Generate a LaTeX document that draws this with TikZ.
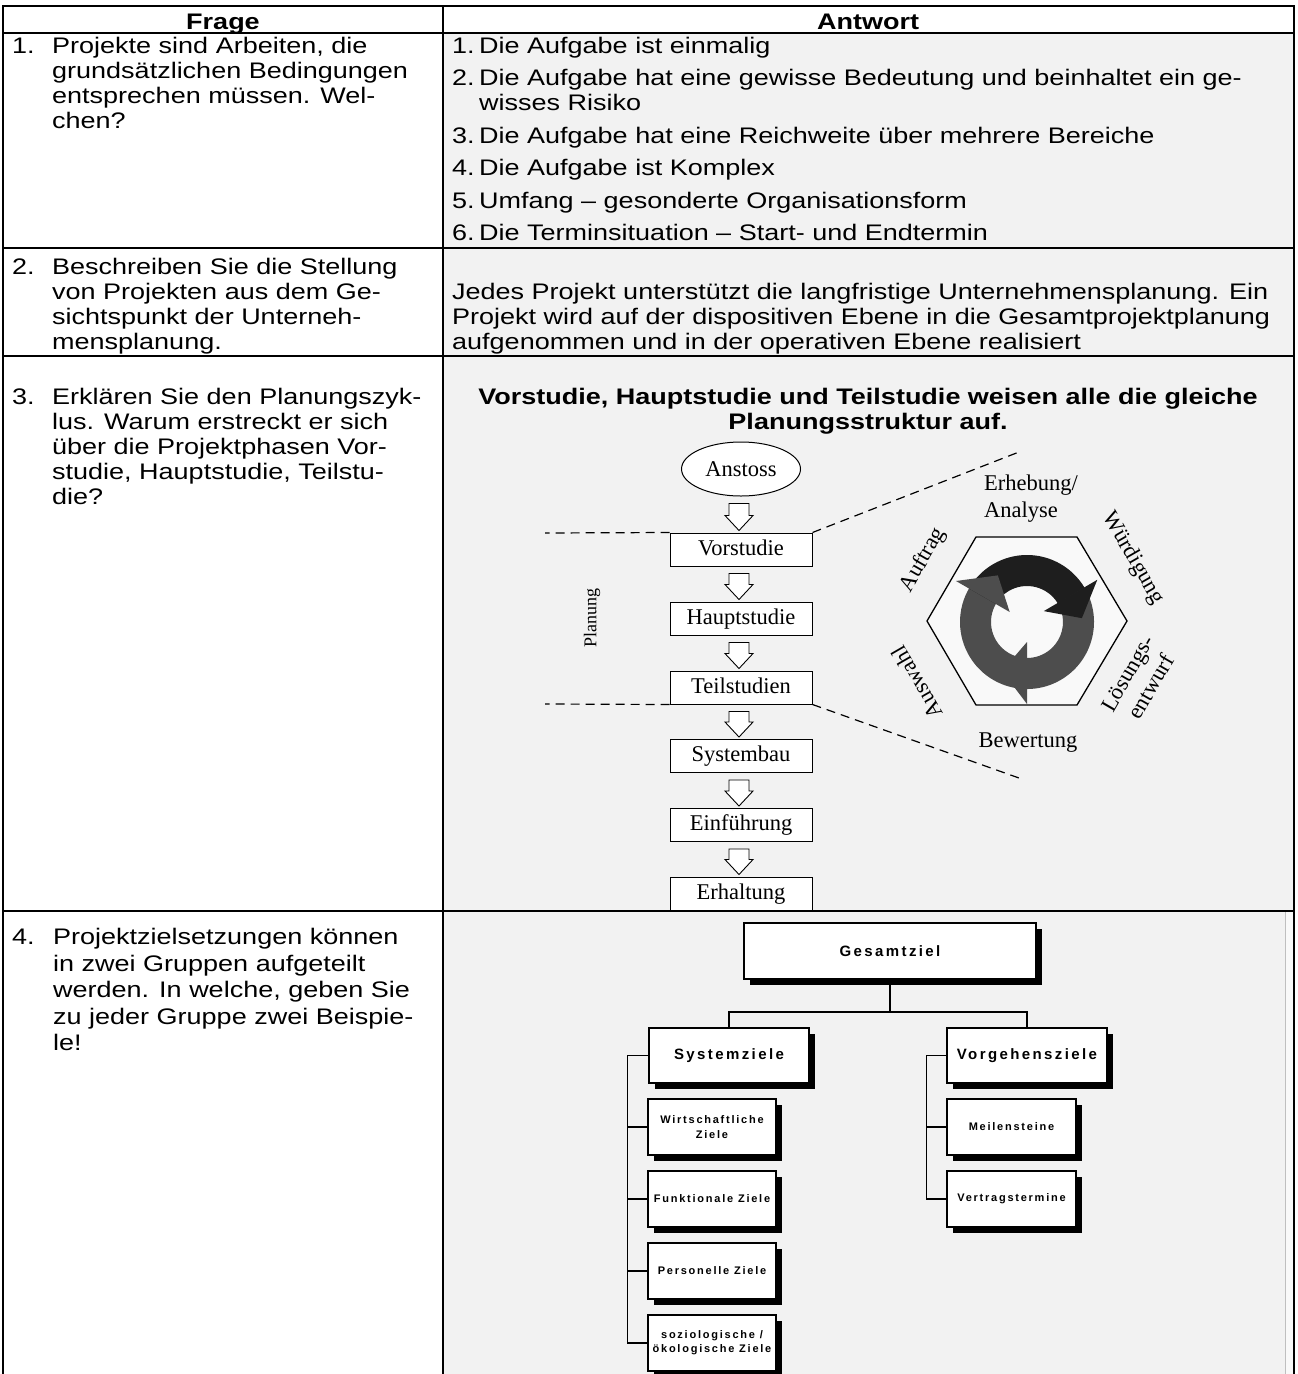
\documentclass[tikz,border=0pt]{standalone}
\usepackage{fontspec}
\setmainfont{Liberation Sans}[FakeStretch=1.2]
\newfontfamily\tms{Liberation Serif}
\newfontfamily\orgf{Liberation Sans}[LetterSpace=16]
\usetikzlibrary{shapes.geometric,calc,shadows}
\definecolor{cellgray}{HTML}{F2F2F2}
\definecolor{hexfill}{HTML}{F9F9F9}
\definecolor{ringdark}{HTML}{1E1E1E}
\definecolor{ringgray}{HTML}{4D4D4D}
\newcommand\bodyfont{\fontsize{22.5}{25}\selectfont}
\newcommand\bodyfontb{\fontsize{22.5}{26.5}\selectfont}
\newcommand\tmsfont{\tms\fontsize{22.5}{27}\selectfont}
\newcommand\orgA{\orgf\bfseries\fontsize{15}{18}\selectfont}
\newcommand\orgB{\orgf\bfseries\fontsize{11}{14.3}\selectfont}
\newcommand\blockarrow[2]{%
  \draw[fill=white, line width=0.9] let \p1=(#1.south), \p2=(#2.north) in
    (\x1-12pt,\y1-7pt) -- (\x1+8pt,\y1-7pt) -- (\x1+8pt,\y2+17pt) -- (\x1+12pt,\y2+17pt)
    -- (\x1-2pt,\y2+2pt) -- (\x1-16pt,\y2+17pt) -- (\x1-12pt,\y2+17pt) -- cycle;}
\begin{document}
\begin{tikzpicture}[x=1pt,y=-1pt,
  txt/.style={font=\bodyfont, inner sep=0, anchor=base west},
  fbox/.style={draw, fill=white, line width=1, minimum width=142, minimum height=33, inner sep=0, font=\tmsfont, text height=15, text depth=4},
  dashline/.style={dash pattern=on 9pt off 6pt, line width=1.2},
  orgbox/.style={draw, fill=white, line width=1.1, inner sep=0, align=center, drop shadow={shadow xshift=6pt, shadow yshift=-6pt, opacity=1, fill=black}},
  orgline/.style={line width=1.2},
  tlabel/.style={font=\tmsfont, inner sep=0}]
\useasboundingbox (0,0) rectangle (1298,1374);
\fill[white] (0,0) rectangle (1298,1374);
% cell shading
\fill[cellgray] (443,33) rectangle (1294,911);
\fill[cellgray] (443,911) rectangle (1285,1374);
\fill[hexfill] (1285,911) rectangle (1294,1374);
\draw[line width=0.6, black!25] (1285,911) -- (1285,1374);
% grid
\draw[line width=1.8] (3,33) -- (1294,33);
\draw[line width=1.8] (3,248) -- (1294,248);
\draw[line width=1.8] (3,356) -- (1294,356);
\draw[line width=2.6] (3,911) -- (1294,911);
\draw[line width=1.5] (443,6) -- (443,1374);
\draw[line width=2.6] (3,1374) -- (3,6) -- (1294,6) -- (1294,1374);

% header
\node[txt, anchor=base, font=\bodyfont\bfseries] (hq) at (223,29.5) {Frage};
\node[txt, anchor=base, font=\bodyfont\bfseries] (ha) at (868,29.5) {Antwort};

% row 1
\node[txt] (q1) at (12,53) {\begin{tabular}[t]{@{}p{40pt}@{}l@{}}1.&Projekte sind Arbeiten, die\\&grundsätzlichen Bedingungen\\&entsprechen müssen. Wel-\\&chen?\end{tabular}};
\node[txt] (a1) at (452,53) {\begin{tabular}[t]{@{}p{27pt}@{}l@{}}1.&Die Aufgabe ist einmalig\\[7.5pt]
2.&Die Aufgabe hat eine gewisse Bedeutung und beinhaltet ein ge-\\
&wisses Risiko\\[7.5pt]
3.&Die Aufgabe hat eine Reichweite über mehrere Bereiche\\[7.5pt]
4.&Die Aufgabe ist Komplex\\[7.5pt]
5.&Umfang – gesonderte Organisationsform\\[7.5pt]
6.&Die Terminsituation – Start- und Endtermin\end{tabular}};

% row 2
\node[txt] (q2) at (12,274.5) {\begin{tabular}[t]{@{}p{40pt}@{}l@{}}2.&Beschreiben Sie die Stellung\\&von Projekten aus dem Ge-\\&sichtspunkt der Unterneh-\\&mensplanung.\end{tabular}};
\node[txt] (a2) at (452,299.5) {\begin{tabular}[t]{@{}l@{}}Jedes Projekt unterstützt die langfristige Unternehmensplanung. Ein\\Projekt wird auf der dispositiven Ebene in die Gesamtprojektplanung\\aufgenommen und in der operativen Ebene realisiert\end{tabular}};

% row 3
\node[txt] (q3) at (12,404.5) {\begin{tabular}[t]{@{}p{40pt}@{}l@{}}3.&Erklären Sie den Planungszyk-\\&lus. Warum erstreckt er sich\\&über die Projektphasen Vor-\\&studie, Hauptstudie, Teilstu-\\&die?\end{tabular}};
\node[inner sep=0, anchor=base, font=\bodyfont\bfseries] (a3t) at (868,404.5) {\begin{tabular}[t]{@{}c@{}}Vorstudie, Hauptstudie und Teilstudie weisen alle die gleiche\\Planungsstruktur auf.\end{tabular}};

% flowchart
\node[ellipse, draw, fill=white, line width=1, minimum width=119, minimum height=54, inner sep=0, font=\tmsfont] (an) at (741,469) {Anstoss};
\node[fbox] (vs) at (741,549.5) {Vorstudie};
\node[fbox] (hs) at (741,618.5) {Hauptstudie};
\node[fbox] (ts) at (741,687.5) {Teilstudien};
\node[fbox] (sb) at (741,756) {Systembau};
\node[fbox] (ef) at (741,825) {Einführung};
\node[fbox] (eh) at (741,893.5) {Erhaltung};
\blockarrow{an}{vs}
\blockarrow{vs}{hs}
\blockarrow{hs}{ts}
\blockarrow{ts}{sb}
\blockarrow{sb}{ef}
\blockarrow{ef}{eh}
\coordinate (dl1) at (545,533);
\coordinate (dl2) at (545,704);
\coordinate (dr1) at (1019,452);
\coordinate (dr2) at (1019,778);
\draw[dashline] (vs.north west) -- (dl1);
\draw[dashline] (ts.south west) -- (dl2);
\draw[dashline] (vs.north east) -- (dr1);
\draw[dashline] (ts.south east) -- (dr2);
\node[rotate=90, inner sep=0, font=\tms\fontsize{18}{20}\selectfont] (pl) at (592,618) {Planung};

% hexagon and cycle
\draw[fill=hexfill, line width=1.3] (927,621) -- (976,537) -- (1077,537) -- (1127,621) -- (1077,705) -- (976,705) -- cycle;
\coordinate (rc) at (1027,622);
\fill[ringgray] ($(rc)+(-32:67)$) arc[start angle=-32, end angle=211, radius=67] -- ($(rc)+(211:36)$) arc[start angle=211, end angle=-32, radius=36] -- cycle;
\fill[ringdark] ($(rc)+(-150:67)$) arc[start angle=-150, end angle=-31, radius=67] -- ($(rc)+(-31:36)$) arc[start angle=-31, end angle=-150, radius=36] -- cycle;
\fill[ringdark] ($(rc)+(-33:20)$) -- ($(rc)+(-31:82)$) -- ($(rc)+(-4:55)$) -- cycle;
\fill[ringgray] ($(rc)+(90:20)$) -- ($(rc)+(90:82)$) -- ($(rc)+(117:55)$) -- cycle;
\fill[ringgray] ($(rc)+(210:20)$) -- ($(rc)+(210:82)$) -- ($(rc)+(238:55)$) -- cycle;
\node[tlabel, anchor=west] (eb) at (984,498.5) {\begin{tabular}{@{}l@{}}Erhebung/\\Analyse\end{tabular}};
\node[tlabel, rotate=60] (au) at (923,560) {Auftrag};
\node[tlabel, rotate=-60] (wu) at (1133,558) {Würdigung};
\node[tlabel, rotate=60] (lo) at (1141,681) {\begin{tabular}{@{}c@{}}Lösungs-\\entwurf\end{tabular}};
\node[tlabel, rotate=120] (aw) at (917,683) {Auswahl};
\node[tlabel] (bw) at (1028,743) {Bewertung};

% row 4
\node[txt, font=\bodyfontb] (q4) at (12,944.5) {\begin{tabular}[t]{@{}p{41pt}@{}l@{}}4.&Projektzielsetzungen können\\&in zwei Gruppen aufgeteilt\\&werden. In welche, geben Sie\\&zu jeder Gruppe zwei Beispie-\\&le!\end{tabular}};

% org chart
\node[orgbox, minimum width=292, minimum height=56, font=\orgA] (gz) at (890,951) {Gesamtziel};
\node[orgbox, minimum width=160, minimum height=55, font=\orgA] (sz) at (729,1055.5) {Systemziele};
\node[orgbox, minimum width=160, minimum height=55, font=\orgA] (vz) at (1027,1055.5) {Vorgehensziele};
\node[orgbox, minimum width=128, minimum height=56, font=\orgB] (c1) at (712,1127) {Wirtschaftliche\\Ziele};
\node[orgbox, minimum width=128, minimum height=56, font=\orgB] (c2) at (712,1199) {Funktionale Ziele};
\node[orgbox, minimum width=128, minimum height=56, font=\orgB] (c3) at (712,1271) {Personelle Ziele};
\node[orgbox, minimum width=128, minimum height=56, font=\orgB] (c4) at (712,1343) {soziologische /\\ökologische Ziele};
\node[orgbox, minimum width=129, minimum height=56, font=\orgB] (d1) at (1011.5,1127) {Meilensteine};
\node[orgbox, minimum width=129, minimum height=56, font=\orgB] (d2) at (1011.5,1199) {Vertragstermine};
\coordinate (bus) at (890,1012);
\draw[orgline] (gz.south) -- (bus);
\draw[orgline] (sz.north) |- (bus) -| (vz.north);
\draw[orgline] (sz.west) -| ($(c4.west)+(-20,0)$) -- (c4.west);
\draw[orgline] (c1.west) -- ++(-20,0);
\draw[orgline] (c2.west) -- ++(-20,0);
\draw[orgline] (c3.west) -- ++(-20,0);
\draw[orgline] (vz.west) -| ($(d2.west)+(-20,0)$) -- (d2.west);
\draw[orgline] (d1.west) -- ++(-20,0);
\end{tikzpicture}
\end{document}
